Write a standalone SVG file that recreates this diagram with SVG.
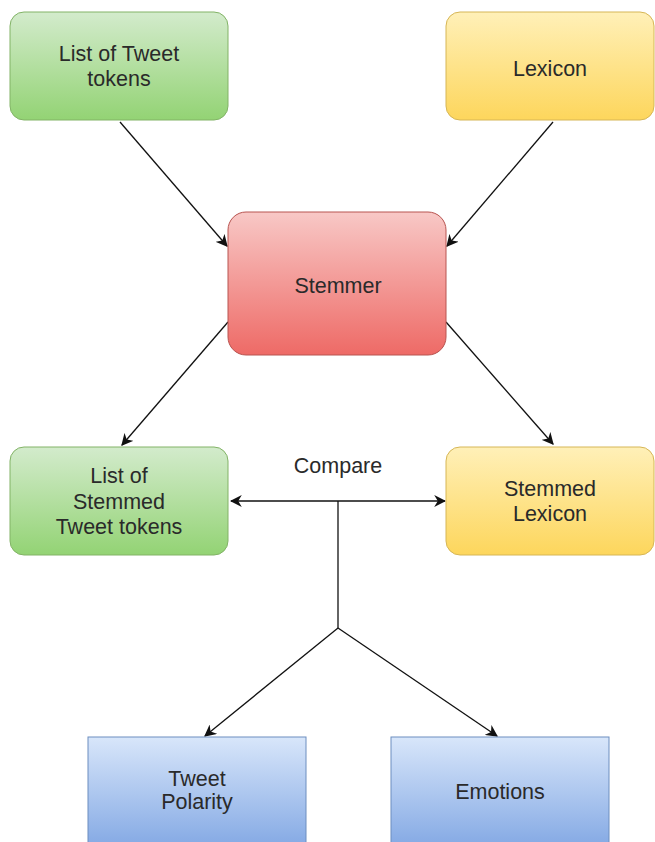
<svg xmlns="http://www.w3.org/2000/svg" width="655" height="842" viewBox="0 0 655 842">
  <defs>
    <linearGradient id="gGreen" x1="0" y1="0" x2="0" y2="1">
      <stop offset="0" stop-color="#d3ebcc"/>
      <stop offset="1" stop-color="#93d374"/>
    </linearGradient>
    <linearGradient id="gYellow" x1="0" y1="0" x2="0" y2="1">
      <stop offset="0" stop-color="#fff0b8"/>
      <stop offset="1" stop-color="#fdd65c"/>
    </linearGradient>
    <linearGradient id="gRed" x1="0" y1="0" x2="0" y2="1">
      <stop offset="0" stop-color="#f8c8c6"/>
      <stop offset="1" stop-color="#ee6a66"/>
    </linearGradient>
    <linearGradient id="gBlue" x1="0" y1="0" x2="0" y2="1">
      <stop offset="0" stop-color="#d8e6fa"/>
      <stop offset="1" stop-color="#84a9e4"/>
    </linearGradient>
    <marker id="arrow" viewBox="0 0 10 10" refX="9" refY="5" markerWidth="12" markerHeight="12" markerUnits="userSpaceOnUse" orient="auto-start-reverse">
      <path d="M0,0 L10,5 L0,10 L3,5 Z" fill="#111"/>
    </marker>
  </defs>
  <style>
    .label { font-family: "Liberation Sans", Arial, sans-serif; font-size: 21.5px; fill: #2a2a2a; text-anchor: middle; }
    .green { fill: url(#gGreen); stroke: #82b366; stroke-width: 1; }
    .yellow { fill: url(#gYellow); stroke: #d6b656; stroke-width: 1; }
    .red { fill: url(#gRed); stroke: #b85450; stroke-width: 1; }
    .blue { fill: url(#gBlue); stroke: #6c8ebf; stroke-width: 1; }
    .edge { fill: none; stroke: #111; stroke-width: 1.3; }
  </style>
  <rect width="655" height="842" fill="#ffffff"/>

  <g id="connectors">
    <line class="edge" x1="120" y1="122" x2="227" y2="246" marker-end="url(#arrow)"/>
    <line class="edge" x1="553" y1="122" x2="447" y2="246" marker-end="url(#arrow)"/>
    <line class="edge" x1="228" y1="322" x2="122" y2="445" marker-end="url(#arrow)"/>
    <line class="edge" x1="446" y1="322" x2="553" y2="444" marker-end="url(#arrow)"/>
    <line class="edge" x1="231" y1="501" x2="445" y2="501" marker-start="url(#arrow)" marker-end="url(#arrow)"/>
    <polyline class="edge" points="338,501 338,628"/>
    <line class="edge" x1="338" y1="628" x2="205" y2="736" marker-end="url(#arrow)"/>
    <line class="edge" x1="338" y1="628" x2="497" y2="736" marker-end="url(#arrow)"/>
    <text class="label" x="338" y="473">Compare</text>
  </g>

  <g id="tweet-tokens">
    <rect class="green" x="10" y="12" width="218" height="108" rx="14"/>
    <text class="label" x="119" y="61">List of Tweet</text>
    <text class="label" x="119" y="86">tokens</text>
  </g>

  <g id="lexicon">
    <rect class="yellow" x="446" y="12" width="208" height="108" rx="14"/>
    <text class="label" x="550" y="76">Lexicon</text>
  </g>

  <g id="stemmer">
    <rect class="red" x="228" y="212" width="218" height="143" rx="18"/>
    <text class="label" x="338" y="293">Stemmer</text>
  </g>

  <g id="stemmed-tokens">
    <rect class="green" x="10" y="447" width="218" height="108" rx="14"/>
    <text class="label" x="119" y="483">List of</text>
    <text class="label" x="119" y="509">Stemmed</text>
    <text class="label" x="119" y="534">Tweet tokens</text>
  </g>

  <g id="stemmed-lexicon">
    <rect class="yellow" x="446" y="447" width="208" height="108" rx="14"/>
    <text class="label" x="550" y="496">Stemmed</text>
    <text class="label" x="550" y="521">Lexicon</text>
  </g>

  <g id="tweet-polarity">
    <rect class="blue" x="88" y="737" width="218" height="110"/>
    <text class="label" x="197" y="786">Tweet</text>
    <text class="label" x="197" y="809">Polarity</text>
  </g>

  <g id="emotions">
    <rect class="blue" x="391" y="737" width="218" height="110"/>
    <text class="label" x="500" y="799">Emotions</text>
  </g>
</svg>
